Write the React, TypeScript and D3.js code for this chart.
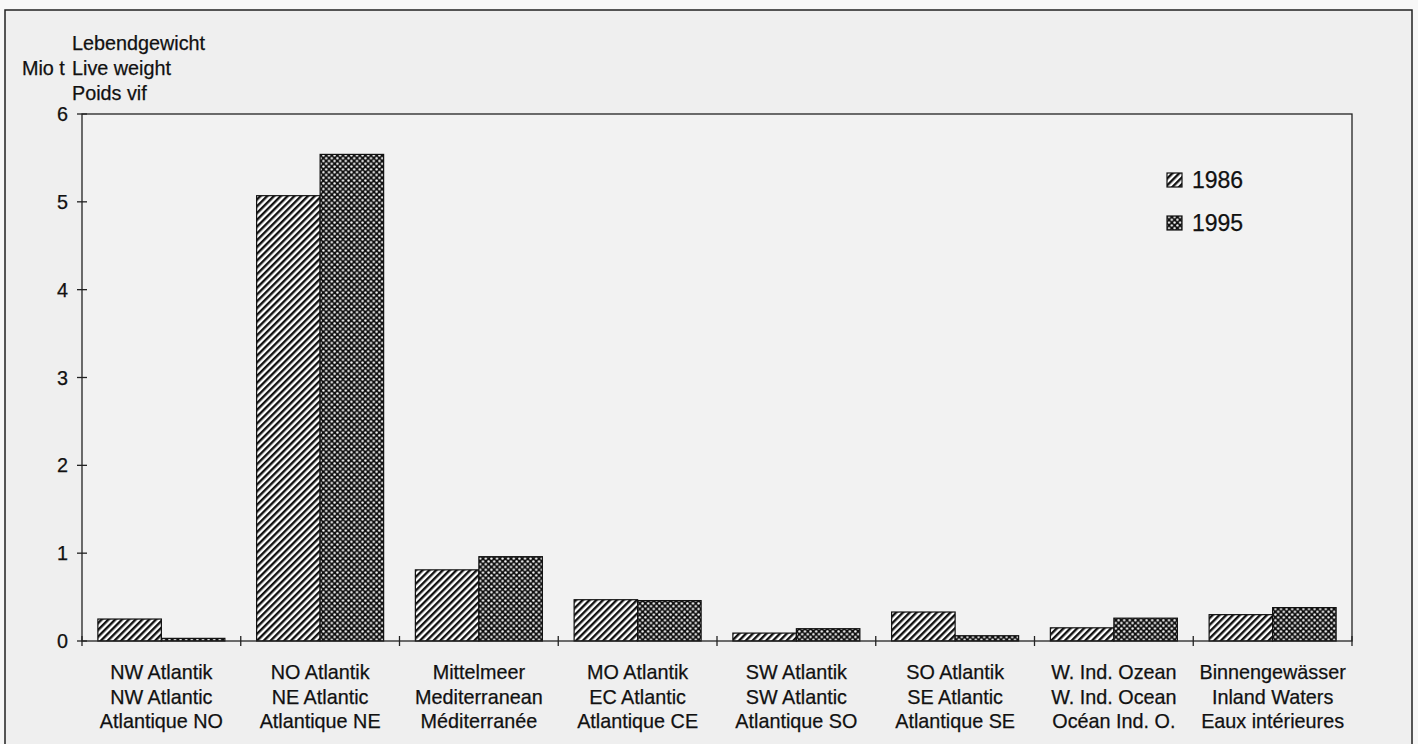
import React from "react";
import * as d3 from "d3";

const categories: string[][] = [
  ["NW Atlantik", "NW Atlantic", "Atlantique NO"],
  ["NO Atlantik", "NE Atlantic", "Atlantique NE"],
  ["Mittelmeer", "Mediterranean", "Méditerranée"],
  ["MO Atlantik", "EC Atlantic", "Atlantique CE"],
  ["SW Atlantik", "SW Atlantic", "Atlantique SO"],
  ["SO Atlantik", "SE Atlantic", "Atlantique SE"],
  ["W. Ind. Ozean", "W. Ind. Ocean", "Océan Ind. O."],
  ["Binnengewässer", "Inland Waters", "Eaux intérieures"],
];
const series = ["1986", "1995"];
const values1986 = [0.25, 5.07, 0.81, 0.47, 0.09, 0.33, 0.15, 0.3];
const values1995 = [0.03, 5.54, 0.96, 0.46, 0.14, 0.06, 0.26, 0.38];
const yTicks = [0, 1, 2, 3, 4, 5, 6];
const unitLabel = "Mio t";
const axisTitle = ["Lebendgewicht", "Live weight", "Poids vif"];

const W = 1418;
const H = 744;
const M = { left: 82, right: 1352, top: 114, bottom: 641 };
const FONT = "'Liberation Sans', Arial, Helvetica, sans-serif";
const FS = 19.8;

export default function App() {
  const keys = categories.map((c) => c[0]);
  const x = d3
    .scaleBand<string>()
    .domain(keys)
    .range([M.left, M.right])
    .paddingInner(0.2)
    .paddingOuter(0.1);
  const x1 = d3.scaleBand<string>().domain(series).range([0, x.bandwidth()]);
  const y = d3.scaleLinear().domain([0, 6]).range([M.bottom, M.top]);
  const step = x.step();
  const boundaries = d3.range(categories.length + 1).map((i) => M.left + i * step);
  const data = [values1986, values1995];
  const fills = ["url(#hatch)", "url(#dots)"];
  const textStyle = { stroke: "#111", strokeWidth: 0.25 };

  return (
    <svg
      width={W}
      height={H}
      style={{ position: "absolute", left: 0, top: 0, background: "#ffffff" }}
      fontFamily={FONT}
    >
      <defs>
        <pattern
          id="hatch"
          patternUnits="userSpaceOnUse"
          width={4.8}
          height={4.8}
          patternTransform="rotate(45)"
        >
          <rect width={4.8} height={4.8} fill="#ffffff" />
          <rect x={0} y={0} width={2.4} height={4.8} fill="#111" />
        </pattern>
        <pattern id="dots" patternUnits="userSpaceOnUse" width={5.6} height={5.6}>
          <rect width={5.6} height={5.6} fill="#111" />
          <circle cx={1.4} cy={1.4} r={1.2} fill="#ffffff" />
          <circle cx={4.2} cy={4.2} r={1.2} fill="#ffffff" />
        </pattern>
      </defs>

      {/* background and outer frame */}
      <rect x={0} y={0} width={W} height={H} fill="#f7f7f7" />
      <rect x={5} y={10} width={1407} height={740} fill="#efefef" stroke="#222" strokeWidth={1.5} />
      <rect x={M.left} y={M.top} width={M.right - M.left} height={M.bottom - M.top} fill="#f2f2f2" />

      {/* bars */}
      {categories.map((c, i) =>
        series.map((s, j) => {
          const v = data[j][i];
          const bx = (x(keys[i]) as number) + (x1(s) as number);
          return (
            <rect
              key={`${i}-${j}`}
              x={bx}
              y={y(v)}
              width={x1.bandwidth()}
              height={y(0) - y(v)}
              fill={fills[j]}
              stroke="#111"
              strokeWidth={1.2}
            />
          );
        })
      )}

      {/* plot frame */}
      <rect
        x={M.left}
        y={M.top}
        width={M.right - M.left}
        height={M.bottom - M.top}
        fill="none"
        stroke="#222"
        strokeWidth={1.3}
      />

      {/* y ticks */}
      {yTicks.map((t) => (
        <g key={t}>
          <line x1={M.left - 5} x2={M.left + 5} y1={y(t)} y2={y(t)} stroke="#222" strokeWidth={1.3} />
          <text x={68} y={y(t) + 7} textAnchor="end" fontSize={FS} fill="#111" style={textStyle}>
            {t}
          </text>
        </g>
      ))}

      {/* x boundary ticks */}
      {boundaries.map((bx, i) => (
        <line key={i} x1={bx} x2={bx} y1={M.bottom - 5} y2={M.bottom + 5} stroke="#222" strokeWidth={1.3} />
      ))}

      {/* x labels */}
      {categories.map((c, i) => {
        const cx = (x(keys[i]) as number) + x.bandwidth() / 2;
        return (
          <text key={i} x={cx} textAnchor="middle" fontSize={FS} fill="#111" style={textStyle}>
            {c.map((line, k) => (
              <tspan key={k} x={cx} y={679 + k * 24.5}>
                {line}
              </tspan>
            ))}
          </text>
        );
      })}

      {/* axis title */}
      <text x={22} y={75} fontSize={FS} fill="#111" style={textStyle}>
        {unitLabel}
      </text>
      {axisTitle.map((t, k) => (
        <text key={k} x={72} y={50 + k * 25} fontSize={FS} fill="#111" style={textStyle}>
          {t}
        </text>
      ))}

      {/* legend */}
      {series.map((s, j) => (
        <g key={s}>
          <rect x={1167} y={173 + j * 43} width={15} height={14} fill={fills[j]} stroke="#111" strokeWidth={1.2} />
          <text x={1192} y={188 + j * 43} fontSize={23} fill="#111" style={textStyle}>
            {s}
          </text>
        </g>
      ))}
    </svg>
  );
}
